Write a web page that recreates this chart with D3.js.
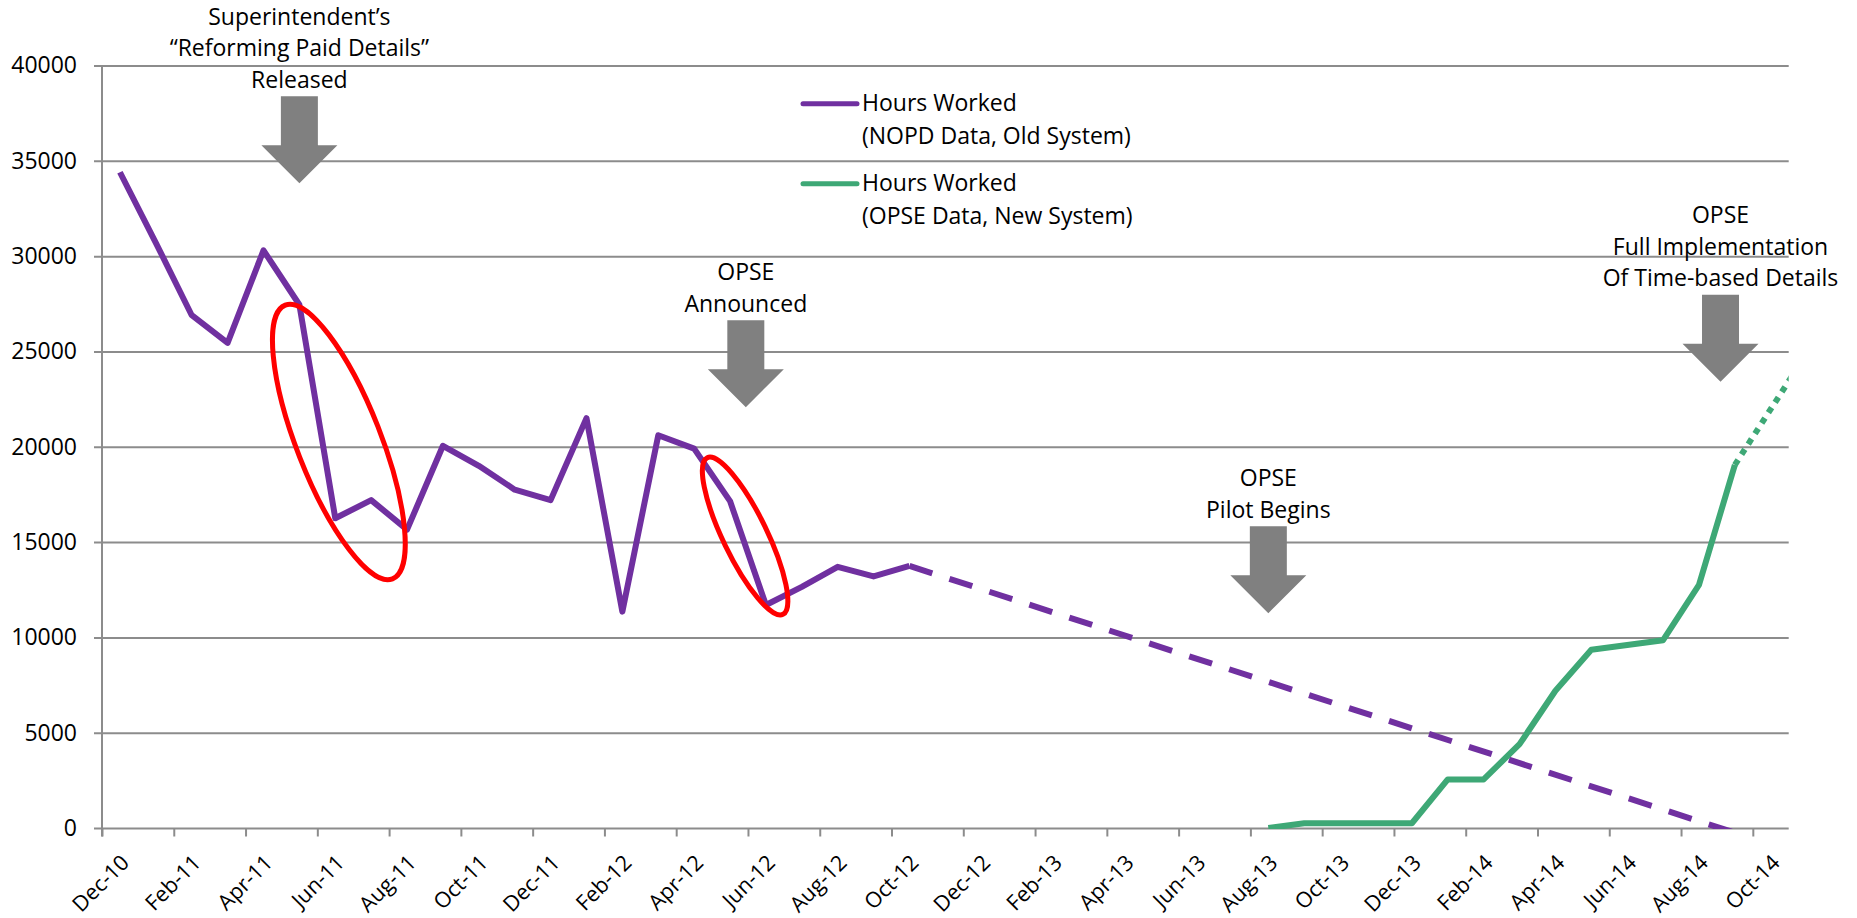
<!DOCTYPE html>
<html>
<head>
<meta charset="utf-8">
<script src="https://cdn.jsdelivr.net/npm/d3@7"></script>
<style>
  html, body { margin: 0; padding: 0; background: #ffffff; }
  svg { display: block; font-family: "Open Sans", "DejaVu Sans", sans-serif; }
</style>
</head>
<body>
<svg id="chart" width="1857" height="918"></svg>
<script>
// ---- Data -------------------------------------------------------------
// Month axis runs Dec-10 .. Oct-14, one slot per month.
const monthNames = ["Jan","Feb","Mar","Apr","May","Jun","Jul","Aug","Sep","Oct","Nov","Dec"];
const firstMonth = "Dec-10";
const lastMonth = "Oct-14";

// Hours worked, NOPD data (old system)
const oldMonths = ["Dec-10","Jan-11","Feb-11","Mar-11","Apr-11","May-11","Jun-11","Jul-11","Aug-11",
  "Sep-11","Oct-11","Nov-11","Dec-11","Jan-12","Feb-12","Mar-12","Apr-12","May-12","Jun-12",
  "Jul-12","Aug-12","Sep-12","Oct-12"];
const oldHours = [34400, 30700, 26900, 25450, 30300, 27450, 16250, 17200, 15650,
  20050, 19000, 17750, 17200, 21500, 11350, 20600, 19900, 17150, 11700,
  12650, 13700, 13200, 13750];

// Projected decline of the old-system series
const oldTrendMonths = ["Oct-12", "Sep-14"];
const oldTrendHours = [13750, -250];

// Hours worked, OPSE data (new system)
const newMonths = ["Aug-13","Sep-13","Oct-13","Nov-13","Dec-13","Jan-14","Feb-14","Mar-14",
  "Apr-14","May-14","Jun-14","Jul-14","Aug-14","Sep-14"];
const newHours = [0, 250, 250, 250, 250, 2550, 2550, 4400, 7200, 9350, 9600, 9850, 12750, 19050];

// Projected growth of the new-system series
const newTrendMonths = ["Sep-14", "Nov-14"];
const newTrendHours = [19050, 24900];

// Axis ticks
const yTicks = [0, 5000, 10000, 15000, 20000, 25000, 30000, 35000, 40000];

// Legend entries
const legendLabels = [
  ["Hours Worked", "(NOPD Data, Old System)"],
  ["Hours Worked", "(OPSE Data, New System)"]
];

// Event call-outs: month position, value the arrow points to, text lines
const eventMonths = [5.5, 17.94, 32.5, 45.1];
const eventValues = [33824, 22072, 11265, 23416];
const eventTexts = [
  ["Superintendent\u2019s", "\u201CReforming Paid Details\u201D", "Released"],
  ["OPSE", "Announced"],
  ["OPSE", "Pilot Begins"],
  ["OPSE", "Full Implementation", "Of Time-based Details"]
];

// Highlighted stretches: centre month position and value
const ringMonths = [6.6, 17.92];
const ringValues = [20250, 15320];

// ---- Helpers ----------------------------------------------------------
const baseParts = firstMonth.split("-");
const baseTotal = (2000 + +baseParts[1]) * 12 + monthNames.indexOf(baseParts[0]);
function monthIndex(label) {
  const [m, yy] = label.split("-");
  return (2000 + +yy) * 12 + monthNames.indexOf(m) - baseTotal;
}
function monthLabel(slot) {
  const total = baseTotal + Math.floor(slot);
  const yy = Math.floor(total / 12) - 2000;
  return monthNames[total % 12] + "-" + String(yy).padStart(2, "0");
}
const nSlots = monthIndex(lastMonth) + 1;   // 47 monthly slots

// ---- Layout -----------------------------------------------------------
const svg = d3.select("#chart");
const plot = { left: 102, right: 1788.7, top: 65.5, bottom: 828 };

const x = d3.scaleLinear().domain([0, nSlots]).range([plot.left, plot.right]);
const y = d3.scaleLinear().domain([0, 40000]).range([plot.bottom, plot.top]);

const purple = "#7030A0";
const green = "#3EA876";
const gridColor = "#8c8c8c";

svg.append("rect").attr("width", 1857).attr("height", 918).attr("fill", "#ffffff");

svg.append("defs").append("clipPath").attr("id", "plotClip")
  .append("rect")
  .attr("x", plot.left).attr("y", plot.top - 2)
  .attr("width", plot.right - plot.left).attr("height", plot.bottom - plot.top + 3);

// Horizontal gridlines + value labels
const yAxis = svg.append("g")
  .attr("transform", `translate(${plot.left - 8},0)`)
  .call(d3.axisLeft(y).tickValues(yTicks)
    .tickSize(-(plot.right - plot.left + 8))
    .tickPadding(17)
    .tickFormat(d3.format("d")));
yAxis.select(".domain").remove();
yAxis.selectAll(".tick line").attr("stroke", gridColor).attr("stroke-width", 2);
yAxis.selectAll(".tick text")
  .attr("font-size", 23).attr("fill", "#000").attr("font-family", "Open Sans");

// Vertical axis line
svg.append("line")
  .attr("x1", plot.left).attr("x2", plot.left)
  .attr("y1", plot.top).attr("y2", plot.bottom + 8.5)
  .attr("stroke", gridColor).attr("stroke-width", 2);

// Month tick marks on slot boundaries, every 2 months
const boundaryTicks = d3.range(0, nSlots, 2);
const xTickAxis = svg.append("g")
  .attr("transform", `translate(0,${plot.bottom})`)
  .call(d3.axisBottom(x).tickValues(boundaryTicks).tickSize(8.5).tickFormat(""));
xTickAxis.select(".domain").remove();
xTickAxis.selectAll(".tick line").attr("stroke", gridColor).attr("stroke-width", 2);

// Month labels, centred in their slot and rotated
const labelPositions = boundaryTicks.map(i => i + 0.5);
const xLabelAxis = svg.append("g")
  .attr("transform", `translate(0,${plot.bottom})`)
  .call(d3.axisBottom(x).tickValues(labelPositions).tickSize(0).tickFormat(monthLabel));
xLabelAxis.select(".domain").remove();
xLabelAxis.selectAll(".tick text")
  .attr("font-size", 21.5).attr("fill", "#000").attr("font-family", "Open Sans")
  .attr("text-anchor", "end")
  .attr("x", 0).attr("y", 0).attr("dy", 0)
  .attr("transform", "translate(10,36) rotate(-45)");

// ---- Series -----------------------------------------------------------
const toPoints = (months, values) => months.map((m, i) => [monthIndex(m) + 0.5, values[i]]);
const line = d3.line().x(d => x(d[0])).y(d => y(d[1]));

const series = svg.append("g").attr("clip-path", "url(#plotClip)");

series.append("path")
  .datum(toPoints(oldTrendMonths, oldTrendHours))
  .attr("d", line).attr("fill", "none")
  .attr("stroke", purple).attr("stroke-width", 6)
  .attr("stroke-dasharray", "24 18");

series.append("path")
  .datum(toPoints(newTrendMonths, newTrendHours))
  .attr("d", line).attr("fill", "none")
  .attr("stroke", green).attr("stroke-width", 6)
  .attr("stroke-dasharray", "6 6.4");

series.append("path")
  .datum(toPoints(oldMonths, oldHours))
  .attr("d", line).attr("fill", "none")
  .attr("stroke", purple).attr("stroke-width", 6)
  .attr("stroke-linejoin", "round");

series.append("path")
  .datum(toPoints(newMonths, newHours))
  .attr("d", line).attr("fill", "none")
  .attr("stroke", green).attr("stroke-width", 6)
  .attr("stroke-linejoin", "round");

// ---- Highlight rings --------------------------------------------------
const ringShapes = [
  { rx: 42, ry: 147, angle: -21.4 },
  { rx: 22, ry: 87, angle: -25.8 }
];
svg.append("g").selectAll("ellipse")
  .data(ringMonths.map((m, i) => ({ m, v: ringValues[i], ...ringShapes[i] })))
  .join("ellipse")
  .attr("cx", 0).attr("cy", 0)
  .attr("rx", d => d.rx).attr("ry", d => d.ry)
  .attr("transform", d => `translate(${x(d.m)},${y(d.v)}) rotate(${d.angle})`)
  .attr("fill", "none").attr("stroke", "#FF0000").attr("stroke-width", 5);

// ---- Legend -----------------------------------------------------------
const legend = svg.append("g");
[purple, green].forEach((c, i) => {
  const top = 103.7 + i * 80;
  legend.append("line")
    .attr("x1", 803).attr("x2", 857).attr("y1", top).attr("y2", top)
    .attr("stroke", c).attr("stroke-width", 5).attr("stroke-linecap", "round");
  legend.append("text")
    .attr("x", 862).attr("y", top + 7.5)
    .attr("font-size", 23).attr("fill", "#000")
    .selectAll("tspan").data(legendLabels[i]).join("tspan")
    .attr("x", 862).attr("dy", (d, j) => j === 0 ? 0 : 32.3)
    .text(d => d);
});

// ---- Event call-outs --------------------------------------------------
const arrowHead = 38, arrowShaft = 49, shaftHalf = 18.5, headHalf = 38;
const lineGap = 31.5;
const events = svg.append("g");
eventMonths.forEach((m, i) => {
  const cx = x(m);
  const tip = y(eventValues[i]);
  const base = tip - arrowHead;
  const top = base - arrowShaft;
  events.append("polygon")
    .attr("points", [
      [cx - shaftHalf, top], [cx + shaftHalf, top], [cx + shaftHalf, base],
      [cx + headHalf, base], [cx, tip], [cx - headHalf, base], [cx - shaftHalf, base]
    ].map(p => p.join(",")).join(" "))
    .attr("fill", "#808080");
  const lines = eventTexts[i];
  events.append("text")
    .attr("text-anchor", "middle").attr("font-size", 23).attr("fill", "#000")
    .selectAll("tspan").data(lines).join("tspan")
    .attr("x", cx)
    .attr("y", (d, j) => top - 8.5 - (lines.length - 1 - j) * lineGap)
    .text(d => d);
});
</script>
</body>
</html>
